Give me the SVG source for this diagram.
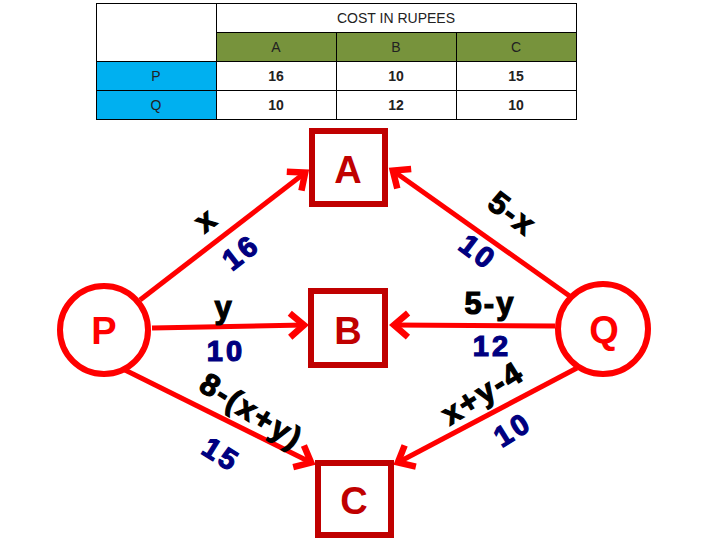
<svg xmlns="http://www.w3.org/2000/svg" width="720" height="540" viewBox="0 0 720 540">
<style>
.cell{stroke:#000;stroke-width:1}
.tt{font-family:"Liberation Sans",Arial,sans-serif;font-size:14px;fill:#222;text-anchor:middle}
.tb{font-weight:bold}
.edge{stroke:#FF0000;stroke-width:5;fill:none;marker-end:url(#arr)}
.box{fill:#fff;stroke:#C00000;stroke-width:6}
.circ{fill:#fff;stroke:#FF0000;stroke-width:6}
.bl{font-family:"Liberation Sans",Arial,sans-serif;font-weight:bold;font-size:38px;fill:#C00000;text-anchor:middle}
.cl{font-family:"Liberation Sans",Arial,sans-serif;font-weight:bold;font-size:38px;fill:#FF0000;text-anchor:middle}
.lk{font-family:"Liberation Sans",Arial,sans-serif;font-weight:bold;font-size:31px;fill:#000;text-anchor:middle;stroke:#000;stroke-width:1.2;letter-spacing:2px}
.lb{font-family:"Liberation Sans",Arial,sans-serif;font-weight:bold;font-size:29px;fill:#000080;text-anchor:middle;stroke:#000080;stroke-width:1.2;letter-spacing:3px}
</style>
<defs>
<marker id="arr" markerUnits="userSpaceOnUse" markerWidth="40" markerHeight="40" refX="0" refY="0" viewBox="-20 -20 40 40" orient="auto">
<path d="M-15,-12 L-1,0 L-15,12" fill="none" stroke="#FF0000" stroke-width="6.5" stroke-linejoin="miter"/>
</marker>
</defs>
<rect width="720" height="540" fill="#fff"/>
<g id="table">
<rect class="cell" x="96.5" y="3.5" width="120" height="58" fill="#fff"/>
<rect class="cell" x="216.5" y="3.5" width="360" height="29" fill="#fff"/>
<rect class="cell" x="216.5" y="32.5" width="120" height="29" fill="#77933C"/>
<rect class="cell" x="336.5" y="32.5" width="120" height="29" fill="#77933C"/>
<rect class="cell" x="456.5" y="32.5" width="120" height="29" fill="#77933C"/>
<rect class="cell" x="96.5" y="61.5" width="120" height="29" fill="#00B0F0"/>
<rect class="cell" x="96.5" y="90.5" width="120" height="29" fill="#00B0F0"/>
<rect class="cell" x="216.5" y="61.5" width="120" height="29" fill="#fff"/>
<rect class="cell" x="336.5" y="61.5" width="120" height="29" fill="#fff"/>
<rect class="cell" x="456.5" y="61.5" width="120" height="29" fill="#fff"/>
<rect class="cell" x="216.5" y="90.5" width="120" height="29" fill="#fff"/>
<rect class="cell" x="336.5" y="90.5" width="120" height="29" fill="#fff"/>
<rect class="cell" x="456.5" y="90.5" width="120" height="29" fill="#fff"/>
<text class="tt" x="396" y="23">COST IN RUPEES</text>
<text class="tt" x="276" y="52">A</text>
<text class="tt" x="396" y="52">B</text>
<text class="tt" x="516" y="52">C</text>
<text class="tt" x="156" y="81">P</text>
<text class="tt" x="156" y="110">Q</text>
<text class="tt tb" x="276" y="81">16</text>
<text class="tt tb" x="396" y="81">10</text>
<text class="tt tb" x="516" y="81">15</text>
<text class="tt tb" x="276" y="110">10</text>
<text class="tt tb" x="396" y="110">12</text>
<text class="tt tb" x="516" y="110">10</text>
</g>
<g id="connectors">
<path class="edge" d="M140,300 L306,172"/>
<path class="edge" d="M571,297 L392,170"/>
<path class="edge" d="M152,328 L305,325"/>
<path class="edge" d="M555,326 L393,325"/>
<path class="edge" d="M125,370 L312,463"/>
<path class="edge" d="M577,368 L397,463"/>
</g>
<g id="labels">
<text class="lk" transform="translate(212,228) rotate(-38)">x</text>
<text class="lb" transform="translate(247,260) rotate(-38)">16</text>
<text class="lk" transform="translate(506,222) rotate(37)">5-x</text>
<text class="lb" transform="translate(472,260) rotate(37)">10</text>
<text class="lk" x="224" y="318">y</text>
<text class="lb" x="226" y="361">10</text>
<text class="lk" x="490" y="314">5-y</text>
<text class="lb" x="492" y="356">12</text>
<text class="lk" transform="translate(246,420) rotate(32)">8-(x+y)</text>
<text class="lb" transform="translate(216,463) rotate(32)">15</text>
<text class="lk" transform="translate(488,402) rotate(-32)">x+y-4</text>
<text class="lb" transform="translate(518,438) rotate(-32)">10</text>
</g>
<g id="node-P">
<circle class="circ" cx="104" cy="330" r="44"/>
<text class="cl" x="104" y="344">P</text>
</g>
<g id="node-Q">
<circle class="circ" cx="603" cy="329" r="45"/>
<text class="cl" x="604" y="343">Q</text>
</g>
<g id="node-A">
<rect class="box" x="312" y="131" width="73" height="73"/>
<text class="bl" x="348" y="183">A</text>
</g>
<g id="node-B">
<rect class="box" x="311" y="291" width="74" height="74"/>
<text class="bl" x="348" y="344">B</text>
</g>
<g id="node-C">
<rect class="box" x="318" y="463" width="73" height="72"/>
<text class="bl" x="354" y="514">C</text>
</g>
</svg>
